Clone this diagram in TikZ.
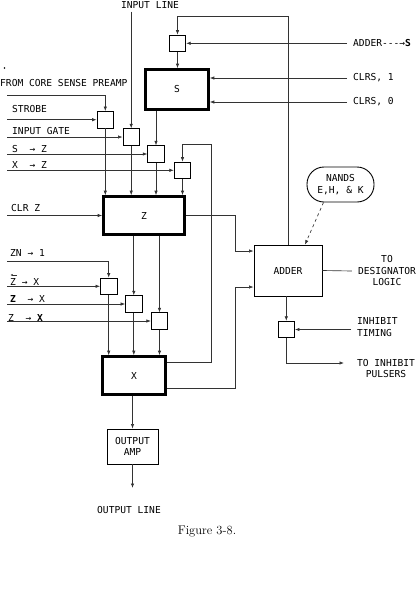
\documentclass[tikz,border=0pt]{standalone}
\usepackage{fontspec}
\setmonofont{DejaVu Sans Mono}
\usetikzlibrary{arrows.meta}

\begin{document}
\begin{tikzpicture}[x=1pt, y=-1pt,
        every node/.style={font=\ttfamily\fontsize{9.6}{11.5}\selectfont},
        wire/.style={line width=0.65pt, black!80},
        arr/.style={wire, -{Latex[length=4.5pt, width=3.4pt]}},
        gate/.style={draw, line width=0.8pt, minimum width=16.5pt, minimum height=16.5pt, inner sep=0pt},
        reg/.style={draw, line width=2.6pt, inner sep=0pt},
        unit/.style={draw, line width=0.9pt, inner sep=0pt, align=center},
        lbl/.style={anchor=base west, inner sep=0pt},
        rlbl/.style={anchor=west, inner xsep=6pt, inner ysep=0pt, align=left}]

        \useasboundingbox (0,0) rectangle (420,592);

        % registers and units
        \node[reg, minimum width=63pt, minimum height=40pt] (S) at (177,89.5) {S};
        \node[reg, minimum width=81pt, minimum height=38pt] (Z) at (144,215.5) {Z};
        \node[reg, minimum width=63pt, minimum height=38pt] (X) at (134,375.5) {X};
        \node[unit, minimum width=68pt, minimum height=51pt] (adder) at (288,270.5) {ADDER};
        \node[unit, minimum width=51pt, minimum height=35pt, font=\ttfamily\fontsize{9.6}{11}\selectfont] (amp) at (132.5,446.5) {OUTPUT\\AMP};
        \node[unit, minimum width=67pt, minimum height=35pt, rounded corners=17pt] (nands) at (340.5,184.5) {NANDS\\E,H, \& K};

        % gates
        \node[gate] (gS) at (177.5,43.3) {};
        \node[gate] (gStrobe) at (105.3,119.7) {};
        \node[gate] (gIn) at (131.2,137) {};
        \node[gate] (gSZ) at (156,154) {};
        \node[gate] (gXZ) at (182.5,170.3) {};
        \node[gate] (gZN) at (108.7,286.3) {};
        \node[gate] (gZX) at (133.8,304) {};
        \node[gate] (gZXb) at (159.5,321) {};
        \node[gate] (gInh) at (286.3,329.5) {};

        % left labels
        \node[lbl] (lPre) at (0,86) {FROM CORE SENSE PREAMP};
        \node[lbl] (lStrobe) at (12,112.7) {STROBE};
        \node[lbl] (lIn) at (12,134) {INPUT GATE};
        \node[lbl] (lSZ) at (12,152) {S~~→ Z};
        \node[lbl] (lXZ) at (12,168) {X~~→ Z};
        \node[lbl] (lClr) at (11,211.7) {CLR Z};
        \node[lbl] (lZN) at (10,256) {ZN → 1};
        \node[lbl] (lZX) at (10,285) {Z~→ X};
        \node[lbl] (lZXa) at (10,302) {\textbf{Z}~~→ X};
        \node[lbl] (lZXb) at (8,321) {Z~~→ \textbf{X}};
        \node[anchor=base, inner sep=0pt] (lInl) at (150,8.5) {INPUT LINE};
        \fill (4.5,68) circle (0.8);
        \draw[wire, -{Latex[length=2.2pt, width=2.2pt]}] ([xshift=6.5pt, yshift=10pt]lZX.base west) -- ([xshift=0.5pt, yshift=10pt]lZX.base west);

        % right labels
        \node[rlbl] (adds) at (347,43.3) {ADDER-{}-{}-→\textbf{S}};
        \node[rlbl] (clr1) at (347,78) {CLRS, 1};
        \node[rlbl] (clr0) at (347,102) {CLRS, 0};
        \node[anchor=center, inner xsep=6pt, align=center] (desig) at (387,271) {TO\\DESIGNATOR\\LOGIC};
        \node[rlbl] (inhT) at (351,327) {INHIBIT\\TIMING};
        \node[align=center, inner sep=0pt] (inhP) at (386,368.5) {TO INHIBIT\\PULSERS};
        \node[inner sep=0pt] (lOut) at (129,510) {OUTPUT LINE};
        \node[inner sep=0pt, font=\rmfamily\fontsize{12.5}{14}\selectfont] (fig) at (207,532) {Figure 3-8.};

        % free ends and corners
        \coordinate (inl) at (131.2,11.5);
        \coordinate (pre) at (7,95);
        \coordinate (inStrobe) at (7,119.7);
        \coordinate (inIn) at (7,137);
        \coordinate (inSZ) at (7,154);
        \coordinate (inXZ) at (7,170.3);
        \coordinate (inClr) at (7,215.5);
        \coordinate (inZN) at (7,261);
        \coordinate (inZX) at (7,286.3);
        \coordinate (inZXa) at (7,304);
        \coordinate (inZXb) at (7,321);
        \coordinate (fbS) at (288,16);
        \coordinate (fbX) at (211,144);
        \coordinate (xhi) at (0,362);
        \coordinate (xlo) at (0,388);
        \coordinate (zj) at (235,251);
        \coordinate (xj) at (235,287);
        \coordinate (inhOut) at (344,363);
        \coordinate (out) at (132.5,488);

        % S register
        \draw[arr] (adder.north) -- (fbS) -| (gS.north);
        \draw[arr] (adds.west) -- (gS.east);
        \draw[arr] (gS.south) -- (gS.south |- S.north);
        \draw[arr] (clr1.west) -- (clr1.west -| S.east);
        \draw[arr] (clr0.west) -- (clr0.west -| S.east);

        % gates into Z
        \draw[arr] (pre) -| (gStrobe.north);
        \draw[arr] (inStrobe) -- (gStrobe.west);
        \draw[arr] (inl) -- (gIn.north);
        \draw[arr] (inIn) -- (gIn.west);
        \draw[arr] (gSZ.north |- S.south) -- (gSZ.north);
        \draw[arr] (inSZ) -- (gSZ.west);
        \draw[arr] (X.east |- xhi) -| (fbX) -| (gXZ.north);
        \draw[arr] (inXZ) -- (gXZ.west);
        \draw[arr] (gStrobe.south) -- (gStrobe.south |- Z.north);
        \draw[arr] (gIn.south) -- (gIn.south |- Z.north);
        \draw[arr] (gSZ.south) -- (gSZ.south |- Z.north);
        \draw[arr] (gXZ.south) -- (gXZ.south |- Z.north);
        \draw[arr] (inClr) -- (Z.west);

        % gates into X
        \draw[arr] (inZN) -| (gZN.north);
        \draw[arr] (inZX) -- (gZN.west);
        \draw[arr] (gZX.north |- Z.south) -- (gZX.north);
        \draw[arr] (inZXa) -- (gZX.west);
        \draw[arr] (gZXb.north |- Z.south) -- (gZXb.north);
        \draw[arr] (inZXb) -- (gZXb.west);
        \draw[arr] (gZN.south) -- (gZN.south |- X.north);
        \draw[arr] (gZX.south) -- (gZX.south |- X.north);
        \draw[arr] (gZXb.south) -- (gZXb.south |- X.north);

        % output
        \draw[arr] (amp.north |- X.south) -- (amp.north);
        \draw[arr] (amp.south) -- (out);

        % adder
        \draw[arr] (Z.east) -| (zj) -- (zj -| adder.west);
        \draw[arr] (X.east |- xlo) -| (xj) -- (xj -| adder.west);
        \draw[arr, dashed] ([xshift=-17pt]nands.south) -- ([xshift=17pt]adder.north);
        \draw[wire] (adder.east) -- (desig.west);
        \draw[arr] (gInh.north |- adder.south) -- (gInh.north);
        \draw[arr] (inhT.west |- gInh.east) -- (gInh.east);
        \draw[arr] (gInh.south) |- (inhOut);
\end{tikzpicture}
\end{document}
